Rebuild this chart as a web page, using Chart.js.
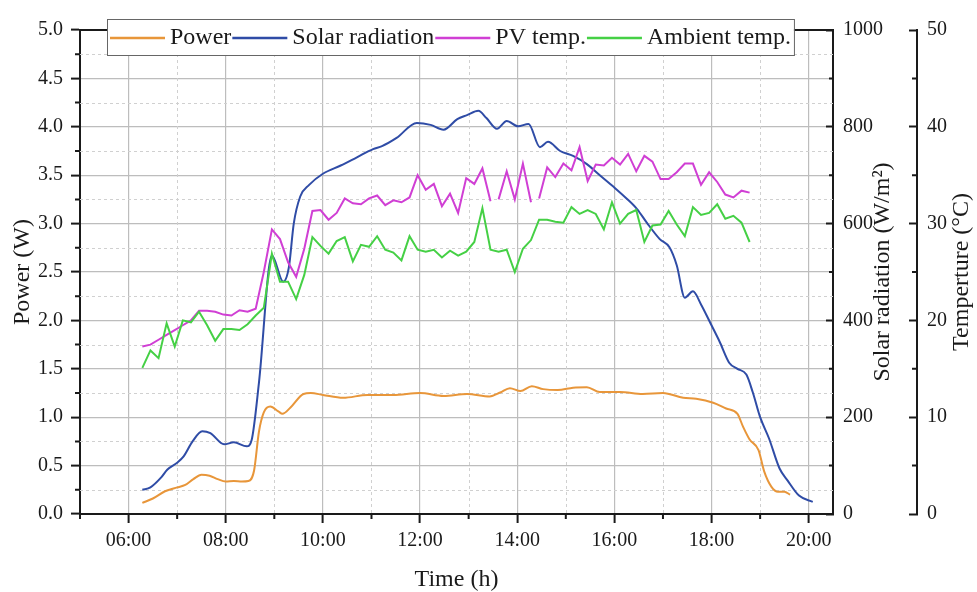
<!DOCTYPE html>
<html>
<head>
<meta charset="utf-8">
<script src="https://cdn.jsdelivr.net/npm/chart.js@4.4.1/dist/chart.umd.min.js"></script>
<style>
  html, body { margin: 0; padding: 0; background: #fff; }
  canvas { display: block; }
</style>
</head>
<body>
<canvas id="chart" width="977" height="592"></canvas>
<script>
/* values */
var timeTicks = ['06:00', '08:00', '10:00', '12:00', '14:00', '16:00', '18:00', '20:00'];

var powerTimes = ['06:17', '06:30', '06:45', '07:00', '07:10', '07:20', '07:30', '07:40', '07:50', '08:00',
  '08:10', '08:20', '08:28', '08:35', '08:41', '08:47', '08:55', '09:05', '09:10', '09:20',
  '09:36', '09:45', '10:00', '10:25', '10:55', '11:27', '12:00', '12:29', '12:58', '13:26',
  '13:39', '13:51', '14:04', '14:18', '14:32', '14:50', '15:09', '15:26', '15:42', '16:07',
  '16:35', '17:00', '17:25', '17:41', '18:02', '18:18', '18:32', '18:39', '18:47', '18:58',
  '19:05', '19:14', '19:22', '19:30', '19:37'];
var powerW = [0.115, 0.16, 0.235, 0.275, 0.30, 0.36, 0.405, 0.395, 0.36, 0.335,
  0.34, 0.335, 0.34, 0.45, 0.85, 1.05, 1.11, 1.06, 1.035, 1.10,
  1.24, 1.25, 1.23, 1.20, 1.23, 1.23, 1.25, 1.22, 1.24, 1.215,
  1.255, 1.30, 1.27, 1.32, 1.29, 1.28, 1.305, 1.31, 1.26, 1.26,
  1.24, 1.25, 1.20, 1.19, 1.15, 1.09, 1.035, 0.90, 0.77, 0.66,
  0.44, 0.28, 0.23, 0.23, 0.20];

var solarTimes = ['06:17', '06:27', '06:40', '06:48', '07:00', '07:08', '07:19', '07:31', '07:41', '07:58',
  '08:10', '08:26', '08:32', '08:41', '08:57', '09:11', '09:18', '09:24', '09:32', '09:43',
  '10:00', '10:22', '10:42', '11:02', '11:13', '11:31', '11:56', '12:13', '12:29', '12:46',
  '12:58', '13:12', '13:22', '13:35', '13:47', '14:01', '14:14', '14:28', '14:38', '14:53',
  '15:09', '15:26', '15:42', '15:59', '16:15', '16:28', '16:40', '16:56', '17:08', '17:17',
  '17:27', '17:37', '17:47', '17:59', '18:10', '18:22', '18:32', '18:43', '18:51', '19:00',
  '19:11', '19:24', '19:34', '19:48', '20:05'];
var solarWm2 = [50, 55, 75, 92, 106, 119, 150, 171, 167, 144,
  148, 140, 153, 271, 534, 480, 510, 600, 656, 680,
  703, 720, 737, 754, 760, 777, 808, 804, 794, 816,
  824, 833, 818, 796, 812, 801, 806, 758, 769, 750,
  740, 723, 700, 676, 652, 630, 602, 568, 551, 514,
  447, 460, 433, 393, 356, 312, 300, 288, 251, 200,
  156, 94, 69, 38, 25];

var tempTimes = ['06:17', '06:27', '06:37', '06:47', '06:57',
  '07:07', '07:17', '07:27', '07:37', '07:47', '07:57',
  '08:07', '08:17', '08:27', '08:37', '08:47', '08:57',
  '09:07', '09:17', '09:27', '09:37', '09:47', '09:57',
  '10:07', '10:17', '10:27', '10:37', '10:47', '10:57',
  '11:07', '11:17', '11:27', '11:37', '11:47', '11:57',
  '12:07', '12:17', '12:27', '12:37', '12:47', '12:57',
  '13:07', '13:17', '13:27', '13:37', '13:47', '13:57',
  '14:07', '14:17', '14:27', '14:37', '14:47', '14:57',
  '15:07', '15:17', '15:27', '15:37', '15:47', '15:57',
  '16:07', '16:17', '16:27', '16:37', '16:47', '16:57',
  '17:07', '17:17', '17:27', '17:37', '17:47', '17:57',
  '18:07', '18:17', '18:27', '18:37', '18:47'];
var pvTemp = [17.3, 17.5, 18.0, 18.5, 19.0,
  19.5, 20.0, 21.0, 21.0, 20.9, 20.6,
  20.5, 21.05, 20.9, 21.2, 25.0, 29.4,
  28.4, 26.0, 24.5, 27.4, 31.3, 31.4,
  30.4, 31.1, 32.6, 32.1, 32.0, 32.6,
  32.9, 31.9, 32.4, 32.2, 32.7, 35.0,
  33.5, 34.1, 31.8, 33.1, 31.1, 34.7,
  34.1, 35.7, 32.3, 32.5, 35.4, 32.5,
  36.2, 32.2, 32.6, 35.8, 34.8, 36.2,
  35.5, 37.9, 34.4, 36.1, 36.0, 36.8,
  36.1, 37.2, 35.4, 37.0, 36.4, 34.6,
  34.6, 35.3, 36.2, 36.2, 34.0, 35.3,
  34.3, 33.0, 32.7, 33.4, 33.2];
var ambientTemp = [15.1, 16.9, 16.1, 19.7, 17.3,
  20.0, 19.8, 20.9, 19.5, 17.9, 19.1,
  19.1, 19.0, 19.6, 20.5, 21.3, 26.9,
  24.0, 24.0, 22.2, 24.7, 28.6, 27.7,
  26.9, 28.2, 28.6, 26.1, 27.8, 27.6,
  28.7, 27.3, 27.0, 26.2, 28.7, 27.3,
  27.1, 27.3, 26.5, 27.2, 26.7, 27.1,
  28.1, 31.6, 27.3, 27.1, 27.3, 25.0,
  27.4, 28.3, 30.4, 30.4, 30.2, 30.1,
  31.7, 31.0, 31.4, 31.0, 29.4, 32.2,
  30.0, 31.0, 31.4, 28.1, 29.8, 29.9,
  31.3, 29.9, 28.7, 31.7, 30.9, 31.1,
  32.0, 30.5, 30.8, 30.1, 28.1];
// the PV trace is interrupted right after these readings
var pvBreaks = ['13:27', '14:17'];

var seriesNames = ['Power', 'Solar radiation', 'PV temp.', 'Ambient temp.'];
var seriesColors = ['#e8963a', '#2f4ca6', '#d03fd4', '#45d045'];

/* ── helpers ── */
var SERIF = "'Liberation Serif', 'Times New Roman', serif";
var INK = '#1a1a1a';
var GRID = '#bdbdbd';

function hm(s) {
  var p = s.split(':');
  return +p[0] + (+p[1]) / 60;
}

function toPoints(times, values) {
  return times.map(function (t, i) { return { x: hm(t), y: values[i] }; });
}

var breakHours = pvBreaks.map(hm);
function isBreak(x) {
  return breakHours.some(function (b) { return Math.abs(b - x) < 0.01; });
}

function fixWidth(w) { return function (scale) { scale.width = w; }; }
function fixHeight(h) { return function (scale) { scale.height = h; }; }

/* ── minor ticks, dashed minor grid, right-hand titles, boxed legend ── */
var decor = {
  id: 'decor',
  beforeDatasetsDraw: function (chart) {
    var ctx = chart.ctx, a = chart.chartArea;
    var x = chart.scales.x, y = chart.scales.y;
    ctx.save();
    ctx.strokeStyle = '#d0d0d0';
    ctx.lineWidth = 1;
    ctx.setLineDash([3, 3]);
    ctx.beginPath();
    for (var h = 7; h < 20; h += 2) {
      var px = Math.round(x.getPixelForValue(h)) + 0.5;
      ctx.moveTo(px, a.top); ctx.lineTo(px, a.bottom);
    }
    for (var v = 0.25; v < 5; v += 0.5) {
      var py = Math.round(y.getPixelForValue(v)) + 0.5;
      ctx.moveTo(a.left, py); ctx.lineTo(a.right, py);
    }
    ctx.stroke();
    ctx.restore();
  },
  afterDraw: function (chart) {
    var ctx = chart.ctx, a = chart.chartArea, s = chart.scales;
    ctx.save();
    ctx.strokeStyle = INK;
    ctx.lineWidth = 2;
    ctx.beginPath();
    var h, v, p;
    for (h = 5; h < 20.5; h += 2) {
      p = s.x.getPixelForValue(h);
      ctx.moveTo(p, a.bottom); ctx.lineTo(p, a.bottom + 5);
    }
    for (v = 0.25; v < 5; v += 0.5) {
      p = s.y.getPixelForValue(v);
      ctx.moveTo(a.left - 5, p); ctx.lineTo(a.left, p);
    }
    for (v = 100; v < 1000; v += 200) {
      p = s.yRad.getPixelForValue(v);
      ctx.moveTo(a.right - 4, p); ctx.lineTo(a.right, p);
    }
    for (v = 5; v < 50; v += 10) {
      p = s.yTemp.getPixelForValue(v);
      ctx.moveTo(s.yTemp.left - 5, p); ctx.lineTo(s.yTemp.left, p);
    }
    ctx.stroke();

    // right-hand axis titles, reading bottom to top
    var cy = (a.top + a.bottom) / 2;
    ctx.fillStyle = INK;
    ctx.font = '24px ' + SERIF;
    ctx.textAlign = 'center';
    ctx.textBaseline = 'middle';
    [[s.yRad.left + 50, 'Solar radiation (W/m\u00b2)'], [s.yTemp.left + 45, 'Temperture (\u00b0C)']].forEach(function (t) {
      ctx.save();
      ctx.translate(t[0], cy);
      ctx.rotate(-Math.PI / 2);
      ctx.fillText(t[1], 0, 0);
      ctx.restore();
    });

    // legend box at the top of the plot
    var lx = 107, ly = 19, lh = 36;
    ctx.font = '24px ' + SERIF;
    var widths = seriesNames.map(function (n) { return ctx.measureText(n).width; });
    var total = 3;
    widths.forEach(function (w) { total += 60 + w + 1; });
    ctx.fillStyle = '#fff';
    ctx.fillRect(lx, ly, total + 2, lh);
    ctx.strokeStyle = '#666';
    ctx.lineWidth = 1;
    ctx.strokeRect(lx + 0.5, ly + 0.5, total + 2, lh);
    var cx = lx + 3, my = ly + 19;
    ctx.textAlign = 'left';
    seriesNames.forEach(function (n, i) {
      ctx.strokeStyle = seriesColors[i];
      ctx.lineWidth = 2.5;
      ctx.beginPath();
      ctx.moveTo(cx, my); ctx.lineTo(cx + 55, my);
      ctx.stroke();
      ctx.fillStyle = INK;
      ctx.fillText(n, cx + 60, my);
      cx += 60 + widths[i] + 1;
    });
    ctx.restore();
  }
};

function lineSet(i, axis, times, values, smooth) {
  return {
    label: seriesNames[i],
    yAxisID: axis,
    data: toPoints(times, values),
    borderColor: seriesColors[i],
    borderWidth: 2,
    pointRadius: 0,
    fill: false,
    tension: smooth ? 0.4 : 0,
    cubicInterpolationMode: smooth ? 'monotone' : 'default',
    order: 4 - i
  };
}

var pvSet = lineSet(2, 'yTemp', tempTimes, pvTemp, false);
pvSet.segment = {
  borderColor: function (c) { return isBreak(c.p0.parsed.x) ? 'rgba(0,0,0,0)' : seriesColors[2]; }
};

function plain(v) { return String(v); }

new Chart(document.getElementById('chart'), {
  type: 'line',
  data: {
    datasets: [
      lineSet(0, 'y', powerTimes, powerW, true),
      lineSet(1, 'yRad', solarTimes, solarWm2, true),
      pvSet,
      lineSet(3, 'yTemp', tempTimes, ambientTemp, false)
    ]
  },
  options: {
    responsive: false,
    devicePixelRatio: 1,
    animation: false,
    layout: { padding: 0 },
    plugins: { legend: { display: false }, tooltip: { enabled: false } },
    scales: {
      x: {
        type: 'linear', position: 'bottom', min: 5, max: 20.5,
        afterBuildTicks: function (scale) {
          scale.ticks = timeTicks.map(function (t) { return { value: hm(t) }; });
        },
        afterFit: fixHeight(78),
        ticks: {
          color: INK, font: { family: SERIF, size: 20 }, padding: 6, autoSkip: false, maxRotation: 0,
          callback: function (v, i) { return timeTicks[i]; }
        },
        grid: { color: GRID, lineWidth: 1.2, tickLength: 9, tickColor: INK, tickWidth: 2 },
        border: { color: INK, width: 2 },
        title: {
          display: true, text: 'Time (h)', color: INK,
          font: { family: SERIF, size: 24, lineHeight: 1 }, padding: { top: 0, bottom: 0 }
        }
      },
      xTop: {
        type: 'linear', position: 'top', min: 5, max: 20.5,
        afterFit: fixHeight(20),
        ticks: { display: false },
        grid: { drawOnChartArea: false, drawTicks: false },
        border: { color: INK, width: 2 }
      },
      y: {
        position: 'left', min: 0, max: 5,
        afterFit: fixWidth(80),
        ticks: {
          color: INK, font: { family: SERIF, size: 20 }, padding: 8, stepSize: 0.5,
          callback: function (v) { return v.toFixed(1); }
        },
        grid: { color: GRID, lineWidth: 1.2, tickLength: 9, tickColor: INK, tickWidth: 2 },
        border: { color: INK, width: 2 },
        title: {
          display: true, text: 'Power (W)', color: INK,
          font: { family: SERIF, size: 24, lineHeight: 1 }, padding: { top: 11, bottom: 0 }
        }
      },
      yRad: {
        position: 'right', min: 0, max: 1000,
        afterFit: fixWidth(84),
        ticks: { color: INK, font: { family: SERIF, size: 20 }, padding: 17, stepSize: 200, callback: plain },
        grid: { drawOnChartArea: false, tickLength: -7, tickColor: INK, tickWidth: 2 },
        border: { color: INK, width: 2 }
      },
      yTemp: {
        position: 'right', min: 0, max: 50,
        afterFit: fixWidth(60),
        ticks: { color: INK, font: { family: SERIF, size: 20 }, padding: 18, stepSize: 10, callback: plain },
        grid: { drawOnChartArea: false, tickLength: -8, tickColor: INK, tickWidth: 2 },
        border: { color: INK, width: 2 }
      }
    }
  },
  plugins: [decor]
});
</script>
</body>
</html>
